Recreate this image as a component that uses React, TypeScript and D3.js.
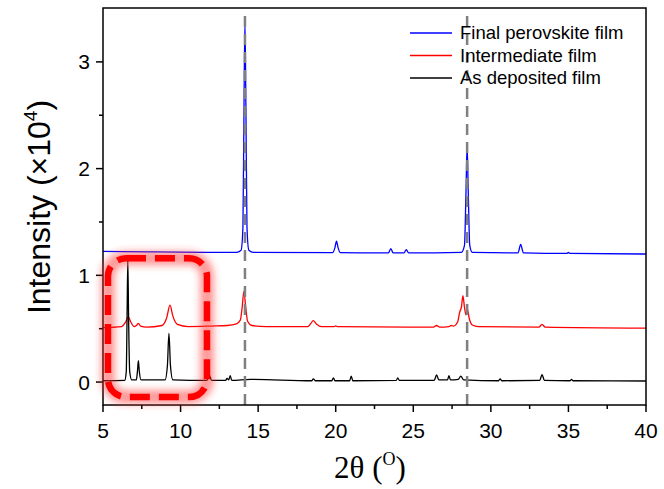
import React from 'react';
import * as d3 from 'd3';

type Pt = [number, number];

const xTicks = [5, 10, 15, 20, 25, 30, 35, 40];
const xMinorTicks = [7.5, 12.5, 17.5, 22.5, 27.5, 32.5, 37.5];
const yTicks = [0, 1, 2, 3];
const yMinorTicks = [0.5, 1.5, 2.5];

const seriesNames = ['Final perovskite film', 'Intermediate film', 'As deposited film'];
const seriesColors = ['#0000ff', '#ff0000', '#000000'];

const finalFilm: Pt[] = [
  [5, 1.225], [8, 1.22], [12, 1.215], [13.6, 1.215], [13.9, 1.235], [14.02, 1.45], [14.09, 2.6], [14.15, 3.38],
  [14.21, 2.6], [14.28, 1.45], [14.4, 1.235], [14.7, 1.215], [19.8, 1.212], [19.95, 1.26], [20.05, 1.32],
  [20.15, 1.26], [20.3, 1.212], [23.4, 1.21], [23.55, 1.25], [23.7, 1.21], [24.4, 1.21], [24.55, 1.24],
  [24.7, 1.21], [28.1, 1.215], [28.3, 1.28], [28.4, 1.8], [28.47, 2.22], [28.54, 1.8], [28.64, 1.28],
  [28.8, 1.215], [31.75, 1.21], [31.92, 1.29], [32.1, 1.21], [34.9, 1.205], [35.0, 1.215], [35.1, 1.205], [40, 1.2],
];

const intermediateFilm: Pt[] = [
  [5, 0.51], [6.2, 0.52], [6.45, 0.56], [6.63, 0.61], [6.8, 0.56], [7.0, 0.52], [7.15, 0.53], [7.28, 0.55],
  [7.42, 0.525], [7.8, 0.515], [8.8, 0.53], [9.1, 0.6], [9.32, 0.72], [9.5, 0.62], [9.8, 0.54], [10.5, 0.52],
  [12, 0.525], [13, 0.53], [13.6, 0.545], [13.85, 0.58], [13.97, 0.7], [14.08, 0.85], [14.2, 0.7], [14.32, 0.57],
  [14.6, 0.53], [15.5, 0.52], [18.2, 0.52], [18.4, 0.55], [18.55, 0.575], [18.75, 0.545], [19.1, 0.52],
  [19.9, 0.52], [20.0, 0.527], [20.1, 0.52], [26.3, 0.515], [26.5, 0.53], [26.7, 0.515], [27.3, 0.52],
  [27.45, 0.53], [27.6, 0.525], [27.85, 0.56], [28.0, 0.66], [28.1, 0.7], [28.2, 0.81], [28.3, 0.7],
  [28.4, 0.63], [28.5, 0.675], [28.6, 0.6], [28.8, 0.535], [29.2, 0.52], [33.1, 0.515], [33.3, 0.54],
  [33.5, 0.515], [40, 0.505],
];

const asDepositedFilm: Pt[] = [
  [5, 0.012], [6.4, 0.015], [6.5, 0.1], [6.55, 0.6], [6.6, 1.14], [6.65, 0.6], [6.72, 0.1], [6.85, 0.02],
  [7.15, 0.02], [7.22, 0.1], [7.28, 0.2], [7.34, 0.1], [7.45, 0.02], [9.0, 0.02], [9.15, 0.15], [9.25, 0.455],
  [9.35, 0.15], [9.5, 0.02], [11.7, 0.015], [11.85, 0.065], [12.0, 0.015], [12.9, 0.015], [13.0, 0.035],
  [13.1, 0.02], [13.2, 0.06], [13.3, 0.015], [14.5, 0.025], [18.45, 0.012], [18.56, 0.03], [18.7, 0.012],
  [19.75, 0.012], [19.85, 0.04], [19.95, 0.012], [20.9, 0.012], [21.0, 0.055], [21.1, 0.012], [23.9, 0.015],
  [24.0, 0.04], [24.1, 0.015], [26.35, 0.015], [26.5, 0.066], [26.65, 0.02], [27.2, 0.02], [27.3, 0.06],
  [27.4, 0.02], [27.9, 0.025], [28.06, 0.056], [28.25, 0.02], [30.5, 0.012], [30.6, 0.03], [30.7, 0.012],
  [33.15, 0.015], [33.3, 0.07], [33.45, 0.015], [35.1, 0.012], [35.2, 0.025], [35.3, 0.012], [40, 0.01],
];

const seriesData = [finalFilm, intermediateFilm, asDepositedFilm];

const refLines = [14.15, 28.47];
const boxX = [5.32, 11.7];
const boxY = [-0.14, 1.16];

const W = 664;
const H = 489;
const L = 103, R = 646, T = 8, B = 405;

export default function App() {
  const x = d3.scaleLinear().domain([5, 40]).range([L, R]);
  const y = d3.scaleLinear().domain([-0.215, 3.505]).range([B, T]);
  const line = d3
    .line<Pt>()
    .x((d) => x(d[0]))
    .y((d) => y(d[1]))
    .curve(d3.curveMonotoneX);

  const arial = 'Arial, "Liberation Sans", sans-serif';
  const serif = '"Times New Roman", "Liberation Serif", serif';

  const bx0 = x(boxX[0]), bx1 = x(boxX[1]), by0 = y(boxY[1]), by1 = y(boxY[0]);

  return (
    <svg width={W} height={H} style={{ position: 'absolute', left: 0, top: 0, background: '#fff' }}>
      <defs>
        <clipPath id="plotClip">
          <rect x={L} y={T} width={R - L} height={B - T} />
        </clipPath>
        <filter id="glow" x="-30%" y="-30%" width="160%" height="160%">
          <feGaussianBlur stdDeviation="3.5" />
        </filter>
      </defs>
      <rect x={0} y={0} width={W} height={H} fill="#fff" />
      <g clipPath="url(#plotClip)">
        {seriesData.map((d, i) => (
          <path key={i} d={line(d) || ''} fill="none" stroke={seriesColors[i]} strokeWidth={1.3} strokeLinejoin="round" />
        ))}
        {refLines.map((v) => (
          <line key={v} x1={x(v)} x2={x(v)} y1={T + 8} y2={B} stroke="#808080" strokeWidth={2.5} strokeDasharray="11,7" />
        ))}
      </g>
      {/* frame */}
      <rect x={L} y={T} width={R - L} height={B - T} fill="none" stroke="#000" strokeWidth={1.5} />
      {/* x ticks */}
      {xTicks.map((t) => (
        <g key={t}>
          <line x1={x(t)} x2={x(t)} y1={B} y2={B + 7} stroke="#000" strokeWidth={1.5} />
          <text x={x(t)} y={438} textAnchor="middle" fontFamily={arial} fontSize={21}>{t}</text>
        </g>
      ))}
      {xMinorTicks.map((t) => (
        <line key={t} x1={x(t)} x2={x(t)} y1={B} y2={B + 4} stroke="#000" strokeWidth={1.5} />
      ))}
      {/* y ticks */}
      {yTicks.map((t) => (
        <g key={t}>
          <line x1={L - 7} x2={L} y1={y(t)} y2={y(t)} stroke="#000" strokeWidth={1.5} />
          <text x={90} y={y(t) + 7.5} textAnchor="end" fontFamily={arial} fontSize={21}>{t}</text>
        </g>
      ))}
      {yMinorTicks.map((t) => (
        <line key={t} x1={L - 4} x2={L} y1={y(t)} y2={y(t)} stroke="#000" strokeWidth={1.5} />
      ))}
      {/* axis titles */}
      <text x={370} y={478} textAnchor="middle" fontFamily={serif} fontSize={31}>
        2θ (<tspan fontSize={18} dy={-13}>O</tspan><tspan dy={13}>)</tspan>
      </text>
      <text transform={`translate(50,${207}) rotate(-90)`} textAnchor="middle" fontFamily={arial} fontSize={32}>
        Intensity (×10<tspan fontSize={19} dy={-13}>4</tspan><tspan dy={13}>)</tspan>
      </text>
      {/* legend */}
      {seriesNames.map((n, i) => (
        <g key={n}>
          <line x1={410} x2={452} y1={33 + i * 22.5} y2={33 + i * 22.5} stroke={seriesColors[i]} strokeWidth={1.5} />
          <text x={460} y={39 + i * 22.5} fontFamily={arial} fontSize={18.5}>{n}</text>
        </g>
      ))}
      {/* annotation box */}
      <rect x={bx0} y={by0} width={bx1 - bx0} height={by1 - by0} rx={18} ry={18} fill="none"
        stroke="#ff3030" strokeOpacity={0.5} strokeWidth={14} filter="url(#glow)" />
      <rect x={bx0} y={by0} width={bx1 - bx0} height={by1 - by0} rx={18} ry={18} fill="none"
        stroke="#ff0000" strokeWidth={6.5} strokeDasharray="20,9" />
    </svg>
  );
}
